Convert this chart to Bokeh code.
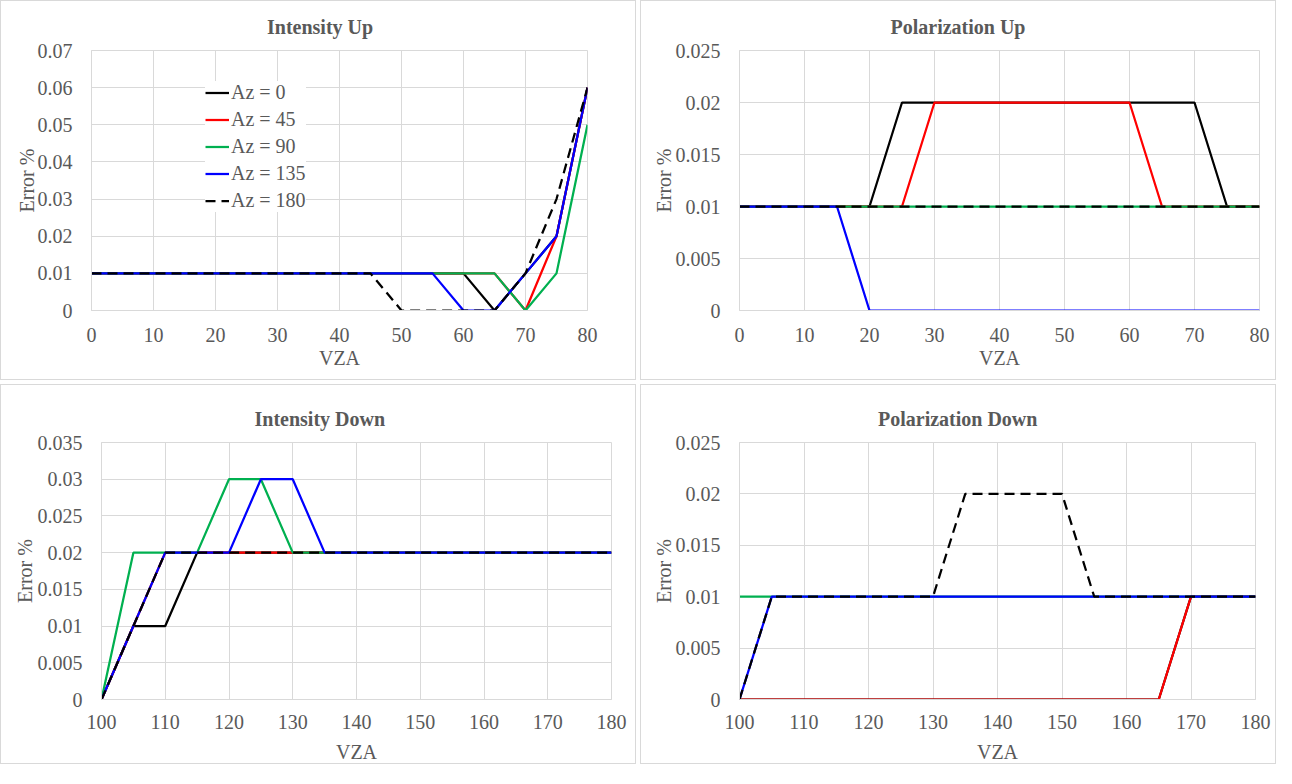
from bokeh.plotting import figure
from bokeh.models import Range1d, FixedTicker, NumeralTickFormatter, Title, Legend, LegendItem
from bokeh.layouts import column, row
from bokeh.embed import file_html
from bokeh.resources import INLINE

# ---------------- data ----------------
az_labels = ["Az = 0", "Az = 45", "Az = 90", "Az = 135", "Az = 180"]
colors = ["#000000", "#FF0000", "#00B050", "#0000FF", "#000000"]
dashes = ["solid", "solid", "solid", "solid", "10 6"]

vza_up = [0, 5, 10, 15, 20, 25, 30, 35, 40, 45, 50, 55, 60, 65, 70, 75, 80]
vza_down = [100, 105, 110, 115, 120, 125, 130, 135, 140, 145, 150, 155, 160, 165, 170, 175, 180]

x_ticks_up = [0, 10, 20, 30, 40, 50, 60, 70, 80]
x_ticks_down = [100, 110, 120, 130, 140, 150, 160, 170, 180]

# Intensity Up
iu_az0 = [0.01, 0.01, 0.01, 0.01, 0.01, 0.01, 0.01, 0.01, 0.01, 0.01, 0.01, 0.01, 0.01, 0, 0.01, 0.02, 0.06]
iu_az45 = [0.01, 0.01, 0.01, 0.01, 0.01, 0.01, 0.01, 0.01, 0.01, 0.01, 0.01, 0.01, 0.01, 0.01, 0, 0.02, 0.06]
iu_az90 = [0.01, 0.01, 0.01, 0.01, 0.01, 0.01, 0.01, 0.01, 0.01, 0.01, 0.01, 0.01, 0.01, 0.01, 0, 0.01, 0.05]
iu_az135 = [0.01, 0.01, 0.01, 0.01, 0.01, 0.01, 0.01, 0.01, 0.01, 0.01, 0.01, 0.01, 0, 0, 0.01, 0.02, 0.06]
iu_az180 = [0.01, 0.01, 0.01, 0.01, 0.01, 0.01, 0.01, 0.01, 0.01, 0.01, 0, 0, 0, 0, 0.01, 0.03, 0.06]
iu_y_ticks = [0, 0.01, 0.02, 0.03, 0.04, 0.05, 0.06, 0.07]

# Polarization Up
pu_az0 = [0.01, 0.01, 0.01, 0.01, 0.01, 0.02, 0.02, 0.02, 0.02, 0.02, 0.02, 0.02, 0.02, 0.02, 0.02, 0.01, 0.01]
pu_az45 = [0.01, 0.01, 0.01, 0.01, 0.01, 0.01, 0.02, 0.02, 0.02, 0.02, 0.02, 0.02, 0.02, 0.01, 0.01, 0.01, 0.01]
pu_az90 = [0.01, 0.01, 0.01, 0.01, 0.01, 0.01, 0.01, 0.01, 0.01, 0.01, 0.01, 0.01, 0.01, 0.01, 0.01, 0.01, 0.01]
pu_az135 = [0.01, 0.01, 0.01, 0.01, 0, 0, 0, 0, 0, 0, 0, 0, 0, 0, 0, 0, 0]
pu_az180 = [0.01, 0.01, 0.01, 0.01, 0.01, 0.01, 0.01, 0.01, 0.01, 0.01, 0.01, 0.01, 0.01, 0.01, 0.01, 0.01, 0.01]
pu_y_ticks = [0, 0.005, 0.01, 0.015, 0.02, 0.025]

# Intensity Down
id_az0 = [0, 0.01, 0.01, 0.02, 0.02, 0.02, 0.02, 0.02, 0.02, 0.02, 0.02, 0.02, 0.02, 0.02, 0.02, 0.02, 0.02]
id_az45 = [0, 0.01, 0.02, 0.02, 0.02, 0.02, 0.02, 0.02, 0.02, 0.02, 0.02, 0.02, 0.02, 0.02, 0.02, 0.02, 0.02]
id_az90 = [0, 0.02, 0.02, 0.02, 0.03, 0.03, 0.02, 0.02, 0.02, 0.02, 0.02, 0.02, 0.02, 0.02, 0.02, 0.02, 0.02]
id_az135 = [0, 0.01, 0.02, 0.02, 0.02, 0.03, 0.03, 0.02, 0.02, 0.02, 0.02, 0.02, 0.02, 0.02, 0.02, 0.02, 0.02]
id_az180 = [0, 0.01, 0.02, 0.02, 0.02, 0.02, 0.02, 0.02, 0.02, 0.02, 0.02, 0.02, 0.02, 0.02, 0.02, 0.02, 0.02]
id_y_ticks = [0, 0.005, 0.01, 0.015, 0.02, 0.025, 0.03, 0.035]

# Polarization Down
pd_az0 = [0, 0, 0, 0, 0, 0, 0, 0, 0, 0, 0, 0, 0, 0, 0.01, 0.01, 0.01]
pd_az45 = [0, 0, 0, 0, 0, 0, 0, 0, 0, 0, 0, 0, 0, 0, 0.01, 0.01, 0.01]
pd_az90 = [0.01, 0.01, 0.01, 0.01, 0.01, 0.01, 0.01, 0.01, 0.01, 0.01, 0.01, 0.01, 0.01, 0.01, 0.01, 0.01, 0.01]
pd_az135 = [0, 0.01, 0.01, 0.01, 0.01, 0.01, 0.01, 0.01, 0.01, 0.01, 0.01, 0.01, 0.01, 0.01, 0.01, 0.01, 0.01]
pd_az180 = [0, 0.01, 0.01, 0.01, 0.01, 0.01, 0.01, 0.02, 0.02, 0.02, 0.02, 0.01, 0.01, 0.01, 0.01, 0.01, 0.01]
pd_y_ticks = [0, 0.005, 0.01, 0.015, 0.02, 0.025]

FONT = "Liberation Serif"
TXT = "#595959"
GRID = "#d9d9d9"


def make_panel(title, title_w, x, ys, x_ticks, y_ticks, width, height, left, right, top, bottom,
               y_label_standoff, x_tick_standoff, x_label_standoff, legend_pos=None):
    p = figure(width=width, height=height, output_backend="svg", toolbar_location=None,
               x_range=Range1d(x_ticks[0], x_ticks[-1]), y_range=Range1d(y_ticks[0], y_ticks[-1]),
               min_border_left=left, min_border_right=right,
               min_border_top=top, min_border_bottom=bottom,
               x_axis_label="VZA", y_axis_label="Error %",
               styles={"border": "1px solid #d9d9d9", "box-sizing": "border-box"})
    p.title = Title(text=title, align="left", offset=width / 2 - left - title_w / 2 + 3,
                    standoff=25, text_font=FONT, text_font_size="20px",
                    text_font_style="bold", text_color=TXT)
    p.outline_line_color = GRID
    p.background_fill_color = "white"
    p.border_fill_color = "white"

    for ax in (p.xaxis[0], p.yaxis[0]):
        ax.major_label_text_font = FONT
        ax.major_label_text_font_size = "20px"
        ax.major_label_text_color = TXT
        ax.axis_label_text_font = FONT
        ax.axis_label_text_font_size = "20px"
        ax.axis_label_text_font_style = "normal"
        ax.axis_label_text_color = TXT
        ax.axis_line_color = GRID
        ax.major_tick_line_color = None
        ax.minor_tick_line_color = None
    p.xaxis.ticker = FixedTicker(ticks=x_ticks)
    p.yaxis.ticker = FixedTicker(ticks=y_ticks)
    p.yaxis.formatter = NumeralTickFormatter(format="0.[000]")
    p.xaxis.major_label_standoff = x_tick_standoff
    p.xaxis.axis_label_standoff = x_label_standoff
    p.yaxis.major_label_standoff = 13
    p.yaxis.axis_label_standoff = y_label_standoff

    p.xgrid.grid_line_color = GRID
    p.ygrid.grid_line_color = GRID
    p.xgrid.ticker = FixedTicker(ticks=x_ticks)
    p.ygrid.ticker = FixedTicker(ticks=y_ticks)

    renderers = []
    for yv, c, d in zip(ys, colors, dashes):
        r = p.line(x, yv, line_color=c, line_width=2.25, line_dash=d)
        renderers.append(r)

    if legend_pos is not None:
        frame_h = height - top - bottom
        items = [LegendItem(label=lab, renderers=[r]) for lab, r in zip(az_labels, renderers)]
        leg_h = 5 * 23 + 4 * 4 + 2 * 4
        leg = Legend(items=items, location=(legend_pos[0], frame_h - legend_pos[1] - leg_h),
                     label_text_font=FONT, label_text_font_size="20px", label_text_color=TXT,
                     glyph_width=24, glyph_height=23, label_height=23, spacing=4,
                     padding=4, margin=0, label_standoff=2,
                     border_line_color=None, background_fill_color="white",
                     background_fill_alpha=1.0)
        p.add_layout(leg)
    return p


p1 = make_panel("Intensity Up", 111, vza_up, [iu_az0, iu_az45, iu_az90, iu_az135, iu_az180],
                x_ticks_up, iu_y_ticks, 636, 380, 90, 50, 47, 71, -3, 11, 2, legend_pos=(114, 25))
p2 = make_panel("Polarization Up", 144, vza_up, [pu_az0, pu_az45, pu_az90, pu_az135, pu_az180],
                x_ticks_up, pu_y_ticks, 636, 380, 98, 18, 47, 71, -2, 11, 2)
p3 = make_panel("Intensity Down", 136, vza_down, [id_az0, id_az45, id_az90, id_az135, id_az180],
                x_ticks_down, id_y_ticks, 636, 380, 100, 26, 57, 64, -1, 9, 9)
p4 = make_panel("Polarization Down", 169, vza_down, [pd_az0, pd_az45, pd_az90, pd_az135, pd_az180],
                x_ticks_down, pd_y_ticks, 636, 380, 98, 22, 57, 64, -2, 9, 9)

layout = column(row(p1, p2, spacing=4), row(p3, p4, spacing=4), spacing=4)

open("out.html", "w").write(file_html(layout, INLINE))
